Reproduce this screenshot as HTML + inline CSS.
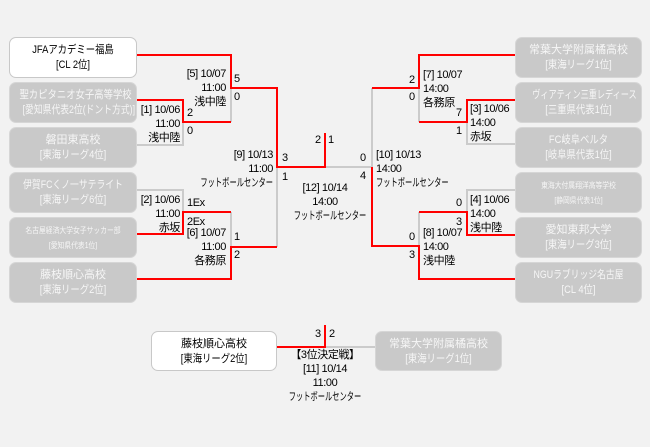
<!DOCTYPE html>
<html><head><meta charset="utf-8">
<style>
html,body{margin:0;padding:0;}
body{width:650px;height:447px;background:#f2f2f2;position:relative;overflow:hidden;font-family:"Liberation Sans","Noto Sans CJK JP",sans-serif;color:#000;}
.box{position:absolute;box-sizing:border-box;height:41px;border-radius:7px;text-align:center;font-size:11px;line-height:15px;padding-top:5px;white-space:nowrap;overflow:hidden;}
.box span{display:block;transform:scaleX(0.85);transform-origin:center center;}
.box span.f{transform:none;}
.box span.n{transform:scaleX(0.8);}
.box span.v{transform:scaleX(0.74);}
.w{background:#fff;border:1px solid #c8c8c8;color:#000;}
.g{background:#c9c9c9;border:1px solid #d6d6d6;color:#f6f6f6;}
.sm{font-size:8px;line-height:15px;}
.l{left:9px;width:128px;}
.r{left:515px;width:127px;}
.t{position:absolute;font-size:11px;line-height:14px;white-space:nowrap;letter-spacing:-0.4px;}
.fc{display:inline-block;transform:scaleX(0.66);letter-spacing:0;}
.ra .fc{transform-origin:right center;}
.la .fc{transform-origin:left center;}
.ca .fc{transform-origin:center center;}
svg{position:absolute;left:0;top:0;}
</style></head><body>

<svg width="650" height="447" viewBox="0 0 650 447" fill="none" stroke-width="2">
<g stroke="#cbcbcb">
<path d="M231,88 V122"/>
<path d="M137,145 H183 V122"/>
<path d="M137,190 H183 V212"/>
<path d="M231,212 V247"/>
<path d="M277,247 V167"/>
<path d="M372,88 V167 H325"/>
<path d="M419,88 V122"/>
<path d="M467,122 V144 H515"/>
<path d="M515,190 H467 V212"/>
<path d="M419,212 V246"/>
<path d="M325,347 H375"/>
</g>
<g stroke="#ff0000">
<path d="M137,55 H231 V88 H277 V167 H325 V133"/>
<path d="M137,100 H183 V122 H231"/>
<path d="M137,234 H183 V212 H231"/>
<path d="M137,279 H231 V247 H277"/>
<path d="M515,55 H419 V88 H372"/>
<path d="M419,122 H467 V100 H515"/>
<path d="M515,235 H467 V212 H419"/>
<path d="M515,279 H419 V246 H372 V167"/>
<path d="M277,347 H325 V325"/>
</g>
</svg>

<!-- left boxes -->
<div class="box w l" style="top:37px;"><span>JFAアカデミー福島</span><span>[CL 2位]</span></div>
<div class="box g l" style="top:82px;"><span>聖カピタニオ女子高等学校</span><span class="n">[愛知県代表2位(ドント方式)]</span></div>
<div class="box g l" style="top:127px;"><span class="f">磐田東高校</span><span>[東海リーグ4位]</span></div>
<div class="box g l" style="top:172px;"><span class="n">伊賀FCくノ一サテライト</span><span>[東海リーグ6位]</span></div>
<div class="box g l sm" style="top:217px;"><span>名古屋経済大学女子サッカー部</span><span>[愛知県代表1位]</span></div>
<div class="box g l" style="top:262px;"><span class="f">藤枝順心高校</span><span>[東海リーグ2位]</span></div>

<!-- right boxes -->
<div class="box g r" style="top:37px;"><span class="f">常葉大学附属橘高校</span><span>[東海リーグ1位]</span></div>
<div class="box g r" style="top:82px;"><span class="v">ヴィアティン三重レディース</span><span>[三重県代表1位]</span></div>
<div class="box g r" style="top:127px;"><span>FC岐阜ベルタ</span><span>[岐阜県代表1位]</span></div>
<div class="box g r sm" style="top:172px;"><span>東海大付属翔洋高等学校</span><span>[静岡県代表1位]</span></div>
<div class="box g r" style="top:217px;"><span class="f">愛知東邦大学</span><span>[東海リーグ3位]</span></div>
<div class="box g r" style="top:262px;"><span class="n">NGUラブリッジ名古屋</span><span>[CL 4位]</span></div>

<!-- third place boxes -->
<div class="box w" style="left:151px;width:126px;top:331px;height:40px;"><span class="f">藤枝順心高校</span><span>[東海リーグ2位]</span></div>
<div class="box g" style="left:375px;width:127px;top:331px;height:40px;"><span class="f">常葉大学附属橘高校</span><span>[東海リーグ1位]</span></div>

<!-- left labels -->
<div class="t ra" style="right:424px;top:67px;text-align:right;">[5] 10/07<br>11:00<br>浅中陸</div>
<div class="t" style="left:234px;top:72px;">5</div>
<div class="t" style="left:234px;top:90px;">0</div>

<div class="t ra" style="right:470px;top:103px;text-align:right;">[1] 10/06<br>11:00<br>浅中陸</div>
<div class="t" style="left:187px;top:106px;">2</div>
<div class="t" style="left:187px;top:124px;">0</div>

<div class="t ra" style="right:470px;top:193px;text-align:right;">[2] 10/06<br>11:00<br>赤坂</div>
<div class="t" style="left:187px;top:196px;">1Ex</div>
<div class="t" style="left:187px;top:215px;">2Ex</div>

<div class="t ra" style="right:424px;top:226px;text-align:right;">[6] 10/07<br>11:00<br>各務原</div>
<div class="t" style="left:234px;top:230px;">1</div>
<div class="t" style="left:234px;top:248px;">2</div>

<div class="t ra" style="right:377px;top:148px;text-align:right;">[9] 10/13<br>11:00<br><span class="fc">フットボールセンター</span></div>
<div class="t" style="left:282px;top:151px;">3</div>
<div class="t" style="left:282px;top:170px;">1</div>

<!-- final -->
<div class="t" style="left:315px;top:133px;">2</div>
<div class="t" style="left:328px;top:133px;">1</div>
<div class="t ca" style="left:275px;width:100px;top:181px;text-align:center;">[12] 10/14<br>14:00<br><span class="fc">フットボールセンター</span></div>

<!-- right labels -->
<div class="t" style="left:360px;top:151px;">0</div>
<div class="t" style="left:360px;top:169px;">4</div>
<div class="t la" style="left:376px;top:148px;">[10] 10/13<br>14:00<br><span class="fc">フットボールセンター</span></div>

<div class="t" style="left:409px;top:73px;">2</div>
<div class="t" style="left:409px;top:90px;">0</div>
<div class="t la" style="left:423px;top:68px;">[7] 10/07<br>14:00<br>各務原</div>

<div class="t" style="left:456px;top:106px;">7</div>
<div class="t" style="left:456px;top:124px;">1</div>
<div class="t la" style="left:470px;top:102px;">[3] 10/06<br>14:00<br>赤坂</div>

<div class="t" style="left:456px;top:196px;">0</div>
<div class="t" style="left:456px;top:215px;">3</div>
<div class="t la" style="left:470px;top:193px;">[4] 10/06<br>14:00<br>浅中陸</div>

<div class="t" style="left:409px;top:230px;">0</div>
<div class="t" style="left:409px;top:248px;">3</div>
<div class="t la" style="left:423px;top:226px;">[8] 10/07<br>14:00<br>浅中陸</div>

<!-- third place labels -->
<div class="t" style="left:315px;top:327px;">3</div>
<div class="t" style="left:329px;top:327px;">2</div>
<div class="t ca" style="left:265px;width:120px;top:348px;text-align:center;">【3位決定戦】<br>[11] 10/14<br>11:00<br><span class="fc">フットボールセンター</span></div>

</body></html>
